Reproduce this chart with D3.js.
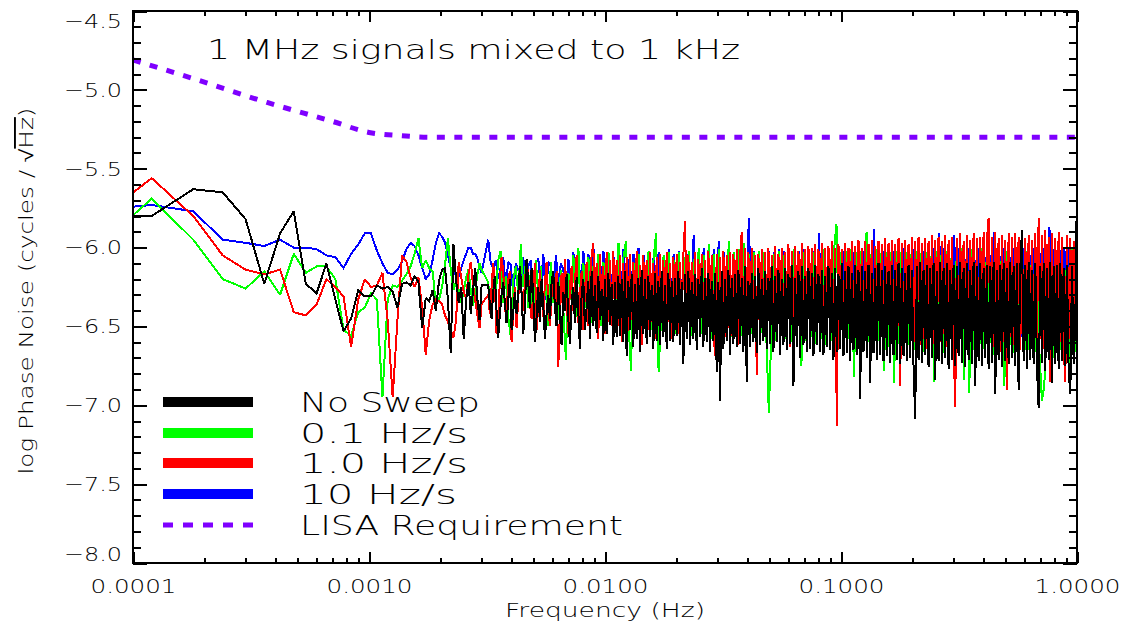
<!DOCTYPE html>
<html><head><meta charset="utf-8">
<script src="https://cdn.jsdelivr.net/npm/d3@7"></script>
<style>
body{margin:0;background:#fff}
svg{display:block}
text{font-family:"DejaVu Sans",sans-serif;font-weight:200;fill:#000}
.tk line{stroke:#000;stroke-width:2px;shape-rendering:crispEdges}
</style>
</head><body>
<svg id="chart" width="1123" height="627"></svg>
<script>
// ---------- text / ticks ----------
const chartTitle = "1 MHz signals mixed to 1 kHz";
const xTitle = "Frequency (Hz)";
const xTickValues = [0.0001, 0.001, 0.01, 0.1, 1];
const xTickLabels = ["0.0001", "0.0010", "0.0100", "0.1000", "1.0000"];
const yTickValues = [-8.0, -7.5, -7.0, -6.5, -6.0, -5.5, -5.0, -4.5];
const yTickLabels = ["\u22128.0", "\u22127.5", "\u22127.0", "\u22126.5", "\u22126.0", "\u22125.5", "\u22125.0", "\u22124.5"];
const seriesNames = ["No Sweep", "0.1 Hz/s", "1.0 Hz/s", "10 Hz/s", "LISA Requirement"];
const seriesColors = ["#000000", "#00ff00", "#ff0000", "#0000ff", "#7f00ff"];

// ---------- frequency grids (x categories) ----------
const binWidth = 6e-5;                       // spectral bin spacing of the low-frequency part
const lowFreq = d3.range(1, 51).map(k => k * binWidth);
const gridA = d3.range(236).map(i => 3.2e-3 * Math.pow(1 / 3.2e-3, i / 235)); // 0.1 & 10 Hz/s
const gridB = d3.range(354).map(i => 3.2e-3 * Math.pow(1 / 3.2e-3, i / 353)); // no sweep & 1.0 Hz/s

// ---------- series values (log phase noise) ----------
const noSweepLow = [
-5.80,-5.80,-5.63,-5.65,-5.82,-6.23,-5.91,-5.77,-6.23,-6.29,
-6.10,-6.33,-6.53,-6.45,-6.27,-6.31,-6.31,-6.24,-6.26,-6.25,
-6.28,-6.38,-6.23,-6.22,-6.24,-6.18,-6.22,-6.51,-6.32,-6.34,
-6.27,-6.40,-6.21,-6.14,-6.13,-6.33,-6.67,-5.98,-6.21,-6.35,
-6.25,-6.58,-6.33,-6.22,-6.42,-6.27,-6.13,-6.33,-6.46,-6.24];
const noSweepHigh = [
-6.24,-6.36,-6.45,-6.28,-6.18,-6.40,-6.57,-6.42,-6.30,-6.22,-6.35,-6.48,-6.33,-6.20,-6.52,
-6.41,-6.28,-6.42,-6.30,-6.12,-6.29,-6.55,-6.38,-6.07,-6.22,-6.38,-6.13,-6.30,-6.60,-6.44,
-6.25,-6.47,-6.20,-6.36,-6.58,-6.42,-6.30,-6.45,-6.22,-6.15,-6.38,-6.50,-6.22,-6.41,-6.62,
-6.28,-6.40,-6.17,-6.45,-6.61,-6.35,-6.25,-6.48,-6.19,-6.40,-6.64,-6.30,-6.20,-6.52,-6.38,
-6.21,-6.58,-6.15,-6.50,-6.24,-6.54,-6.18,-6.46,-6.26,-6.59,-6.20,-6.55,-6.16,-6.49,-6.23,
-6.62,-6.22,-6.57,-6.18,-6.56,-6.20,-6.60,-6.15,-6.69,-6.21,-6.52,-6.17,-6.63,-6.23,-6.58,
-6.19,-6.66,-6.14,-6.55,-6.20,-6.61,-6.18,-6.57,-6.24,-6.64,-6.16,-6.59,-6.21,-6.62,-6.15,
-6.57,-6.24,-6.64,-6.16,-6.59,-6.21,-6.60,-6.19,-6.56,-6.15,-6.62,-6.22,-6.74,-6.17,-6.58,
-6.15,-6.62,-6.22,-6.58,-6.17,-6.65,-6.20,-6.57,-6.13,-6.63,-6.19,-6.60,-6.16,-6.66,-6.21,
-6.59,-6.16,-6.79,-6.22,-6.97,-6.15,-6.64,-6.20,-6.59,-6.14,-6.68,-6.19,-6.61,-6.17,-6.63,
-6.14,-6.61,-6.19,-6.66,-6.12,-6.85,-6.21,-6.63,-6.16,-6.60,-6.18,-6.67,-6.13,-6.62,-6.20,
-6.59,-6.15,-6.64,-6.19,-6.61,-6.12,-6.66,-6.18,-6.60,-6.14,-6.68,-6.20,-6.62,-6.13,-6.65,
-6.17,-6.61,-6.11,-6.88,-6.19,-6.63,-6.15,-6.70,-6.12,-6.62,-6.18,-6.66,-6.13,-6.64,-6.16,
-6.69,-6.11,-6.62,-6.17,-6.66,-6.14,-6.68,-6.18,-6.63,-6.12,-6.65,-6.16,-6.71,-6.13,-6.66,
-6.17,-6.64,-6.10,-6.69,-6.15,-6.67,-6.12,-6.72,-6.16,-6.65,-6.11,-6.68,-6.14,-6.96,-6.12,
-6.66,-6.15,-6.70,-6.11,-6.86,-6.16,-6.67,-6.13,-6.71,-6.10,-6.68,-6.14,-6.72,-6.12,-6.69,
-6.15,-6.73,-6.11,-6.68,-6.14,-6.71,-6.10,-6.74,-6.13,-6.69,-6.16,-6.72,-6.11,-6.70,-6.14,
-6.75,-7.09,-6.12,-6.71,-6.09,-6.73,-6.14,-6.68,-6.11,-6.76,-6.13,-6.70,-6.10,-6.84,-6.15,
-6.72,-6.09,-6.74,-6.13,-6.70,-6.10,-6.77,-6.14,-6.71,-6.11,-6.75,-6.12,-6.69,-6.09,-6.73,
-6.13,-6.76,-6.10,-6.71,-6.14,-6.74,-6.09,-6.88,-6.12,-6.72,-6.10,-6.75,-6.13,-6.70,-6.11,
-6.77,-6.12,-6.73,-6.09,-6.93,-6.14,-6.71,-6.11,-6.76,-6.10,-6.72,-6.13,-6.74,-6.09,-6.70,
-6.12,-6.75,-6.10,-6.90,-6.13,-5.89,-6.72,-6.11,-6.77,-6.09,-6.71,-6.14,-6.74,-6.10,-6.76,
-7.02,-6.12,-6.73,-6.10,-6.78,-6.13,-6.71,-6.09,-6.86,-6.12,-6.74,-6.11,-6.77,-6.10,-6.72,
-6.13,-6.75,-6.11,-6.79,-6.93,-6.12,-6.74,-6.45,-5.58];

const sweep01Low = [
-6.09,-5.69,-5.95,-6.20,-6.26,-6.15,-6.30,-6.04,-6.16,-6.12,
-6.12,-6.20,-6.52,-6.56,-6.41,-6.38,-6.29,-6.33,-6.95,-6.33,
-6.24,-6.25,-6.21,-6.17,-6.12,-6.04,-5.94,-6.13,-6.08,-6.13,
-6.15,-6.36,-6.33,-6.25,-6.11,-5.94,-6.14,-6.27,-6.21,-6.27,
-6.35,-6.28,-6.19,-6.14,-6.27,-6.37,-6.27,-6.17,-6.10,-6.14];
const sweep01High = [
-6.22,-6.40,-6.15,-6.30,-6.08,-6.02,-6.35,-6.18,-6.44,-6.57,
-6.20,-6.12,-6.30,-5.98,-6.25,-6.10,-6.38,-6.15,-6.45,-6.08,
-6.30,-6.12,-6.42,-6.18,-6.50,-6.09,-6.35,-6.20,-6.46,-6.14,
-6.40,-6.71,-6.16,-6.33,-6.05,-6.44,-6.00,-6.52,-6.10,-6.38,
-6.06,-6.48,-6.12,-6.41,-6.04,-6.50,-6.09,-6.45,-6.03,-6.47,
-6.08,-6.44,-5.97,-6.50,-6.06,-5.96,-6.48,-6.78,-6.10,-6.46,
-6.04,-6.50,-6.11,-6.47,-6.02,-6.52,-6.07,-5.91,-6.79,-6.45,
-6.05,-6.52,-6.03,-6.48,-6.08,-6.55,-6.03,-6.50,-6.06,-6.53,
-6.02,-6.56,-6.07,-6.49,-6.00,-6.55,-6.05,-6.51,-5.98,-6.58,
-6.04,-6.52,-6.01,-6.60,-6.06,-6.54,-5.96,-6.57,-6.03,-6.53,
-6.01,-6.56,-5.97,-6.62,-6.04,-6.55,-6.03,-6.58,-6.02,-6.54,
-6.03,-6.57,-7.05,-6.55,-6.04,-6.59,-6.02,-6.56,-6.05,-6.58,
-6.02,-6.60,-6.01,-6.56,-6.04,-6.75,-6.03,-6.59,-6.02,-6.57,
-6.03,-6.61,-6.02,-6.58,-6.01,-6.62,-6.04,-6.59,-6.02,-5.85,
-6.60,-6.03,-6.63,-6.02,-6.58,-6.01,-6.82,-6.03,-6.61,-6.02,
-6.64,-5.90,-6.60,-6.03,-6.62,-6.01,-6.59,-6.02,-6.78,-6.03,
-6.63,-6.01,-6.86,-6.02,-6.61,-6.00,-6.64,-6.03,-6.62,-6.01,
-6.65,-6.02,-6.62,-6.00,-6.66,-6.03,-6.63,-6.01,-6.85,-6.02,
-6.64,-6.00,-6.67,-6.02,-6.63,-6.01,-6.66,-6.03,-6.64,-6.00,
-6.84,-6.02,-6.92,-6.01,-6.65,-6.03,-6.67,-6.00,-6.64,-6.02,
-6.66,-6.01,-6.68,-6.03,-6.65,-6.00,-6.88,-6.02,-6.66,-6.01,
-6.67,-6.03,-6.64,-6.00,-6.68,-6.02,-6.65,-6.01,-6.69,-6.03,
-6.66,-6.97,-6.87,-6.02,-6.67,-6.00,-6.70,-6.03,-6.66,-6.01,
-6.68,-6.02,-6.84,-6.00,-6.67,-6.10];

const sweep1Low = [
-5.91,-5.56,-5.80,-6.05,-6.14,-6.17,-6.14,-6.41,-6.43,-6.36,
-6.20,-6.25,-6.31,-6.63,-6.33,-6.20,-6.25,-6.24,-6.16,-6.46,
-6.95,-6.46,-6.05,-6.09,-6.19,-6.25,-6.19,-6.38,-6.68,-6.46,
-6.36,-6.33,-6.34,-6.36,-6.43,-6.47,-6.52,-6.57,-6.46,-6.09,
-6.19,-6.28,-6.32,-6.17,-6.09,-6.24,-6.33,-6.43,-6.51,-6.36];
const sweep1High = [
-6.30,-6.42,-6.25,-6.10,-6.22,-6.55,-6.48,-6.20,-6.06,-6.15,-6.38,-6.45,-6.20,-6.15,-6.60,
-6.42,-6.25,-6.51,-6.33,-6.12,-6.28,-6.40,-6.22,-6.08,-6.18,-6.35,-6.45,-6.28,-6.10,-6.52,
-6.38,-6.14,-6.30,-6.44,-6.22,-6.09,-6.35,-6.50,-6.30,-6.20,-6.38,-6.15,-6.76,-6.45,-6.16,
-6.42,-6.07,-6.30,-6.55,-6.25,-6.12,-6.40,-6.22,-6.05,-6.48,-6.30,-6.15,-6.52,-6.28,-6.09,
-6.50,-6.20,-6.05,-5.97,-6.45,-6.10,-6.58,-6.04,-6.42,-6.12,-6.55,-6.03,-6.47,-6.08,-6.50,
-6.02,-6.44,-6.08,-6.50,-6.05,-6.60,-6.10,-6.48,-6.06,-6.53,-6.04,-6.46,-6.09,-6.55,-6.02,
-6.49,-6.11,-6.62,-6.05,-6.45,-6.08,-6.52,-6.03,-6.47,-6.10,-6.58,-6.06,-6.50,-6.04,-6.46,
-6.08,-6.52,-6.03,-6.47,-6.10,-6.58,-6.06,-6.50,-6.04,-6.55,-6.09,-6.48,-6.05,-5.83,-6.46,
-6.05,-6.55,-6.09,-6.48,-6.03,-6.60,-6.07,-6.52,-6.04,-6.50,-6.08,-6.49,-6.02,-6.57,-6.05,
-6.51,-6.69,-6.04,-6.54,-6.06,-6.49,-6.02,-6.57,-6.05,-6.51,-6.03,-6.56,-6.04,-6.50,-6.01,
-6.62,-6.06,-5.90,-6.53,-6.00,-6.48,-6.03,-6.58,-6.00,-6.52,-6.05,-6.81,-6.04,-6.55,-6.01,
-6.49,-6.03,-6.58,-6.00,-6.52,-6.05,-6.60,-5.99,-6.55,-6.04,-6.49,-6.00,-6.57,-6.03,-6.51,
-5.98,-6.63,-6.02,-6.54,-5.99,-6.50,-6.02,-6.58,-5.97,-6.53,-6.01,-6.61,-5.99,-6.56,-6.00,
-6.54,-5.98,-6.59,-6.01,-6.52,-5.97,-6.63,-6.00,-6.55,-5.99,-6.60,-5.96,-6.53,-6.00,-7.13,
-5.98,-6.54,-6.01,-6.59,-5.97,-6.52,-6.00,-6.63,-5.96,-6.55,-5.99,-6.60,-5.95,-6.53,-6.00,
-6.58,-5.96,-6.62,-5.98,-6.54,-5.95,-6.57,-5.99,-6.61,-5.96,-6.55,-5.98,-6.59,-5.94,-6.56,
-5.97,-6.62,-5.95,-6.58,-5.98,-6.55,-5.94,-6.88,-5.97,-6.59,-5.95,-6.61,-5.98,-6.56,-5.93,
-6.60,-5.96,-6.57,-5.93,-6.62,-5.97,-6.58,-5.94,-6.64,-5.96,-6.57,-5.92,-6.61,-5.95,-6.59,
-5.93,-6.60,-5.96,-6.55,-5.92,-6.63,-5.95,-6.58,-5.93,-6.61,-7.01,-5.94,-6.58,-5.91,-6.62,
-5.96,-6.61,-5.92,-6.56,-5.95,-6.64,-5.91,-6.59,-5.94,-6.62,-5.93,-6.57,-5.90,-6.63,-5.95,
-5.81,-6.57,-5.93,-6.63,-5.90,-6.58,-5.94,-6.66,-5.92,-6.60,-5.95,-6.90,-5.91,-6.57,-5.93,
-6.62,-5.91,-6.57,-5.93,-6.65,-5.90,-6.60,-5.94,-6.63,-5.92,-6.58,-5.95,-6.61,-5.91,-6.59,
-5.81,-6.58,-5.92,-6.64,-5.89,-6.61,-5.93,-6.85,-5.91,-6.59,-5.94,-6.62,-5.90,-6.60,-5.93,
-6.63,-6.85,-5.92,-6.58,-5.94,-6.61,-5.96,-6.40,-6.05];

const sweep10Low = [
-5.77,-5.73,-5.77,-5.95,-5.97,-5.99,-5.95,-6.00,-6.00,-6.01,
-6.05,-6.06,-6.13,-6.04,-5.98,-5.91,-5.91,-6.02,-6.10,-6.16,
-6.17,-6.14,-6.09,-6.01,-5.97,-5.99,-6.05,-6.13,-6.20,-6.17,
-6.08,-5.97,-5.91,-5.93,-5.97,-6.05,-6.13,-6.16,-6.17,-6.18,
-6.13,-6.08,-6.04,-6.00,-6.00,-6.04,-6.04,-6.07,-6.12,-6.16];
const sweep10High = [
-5.95,-6.10,-6.13,-6.08,-6.20,-6.12,-6.06,-6.25,-6.09,-6.11,
-6.30,-6.10,-6.14,-6.22,-6.06,-6.28,-6.12,-6.08,-6.35,-6.10,
-6.07,-6.26,-6.04,-6.33,-6.09,-6.12,-6.30,-6.05,-6.22,-6.10,
-6.14,-6.35,-6.07,-6.28,-6.03,-6.31,-6.06,-6.25,-6.02,-6.34,
-6.04,-6.30,-6.00,-6.38,-6.05,-6.27,-6.02,-6.40,-6.08,-6.33,
-6.06,-6.45,-6.03,-6.36,-6.01,-6.42,-6.07,-6.30,-6.04,-6.48,
-6.00,-6.38,-6.05,-6.44,-6.02,-6.35,-6.06,-6.47,-6.03,-6.40,
-6.05,-6.43,-6.01,-6.39,-6.04,-6.46,-6.02,-6.37,-6.06,-6.44,
-6.02,-6.40,-5.92,-6.45,-6.03,-6.38,-6.00,-6.48,-6.04,-6.42,
-6.01,-6.46,-5.96,-6.41,-6.03,-6.50,-6.02,-6.43,-6.05,-6.47,
-6.03,-6.44,-6.04,-6.49,-5.81,-6.42,-6.02,-6.52,-6.03,-6.45,
-6.04,-6.50,-6.02,-6.44,-6.03,-6.53,-6.01,-6.47,-6.02,-6.51,
-6.03,-6.46,-6.04,-6.52,-6.02,-6.48,-6.01,-6.55,-6.03,-6.49,
-6.02,-6.53,-5.91,-6.47,-6.03,-6.56,-6.01,-6.50,-6.02,-6.54,
-6.01,-6.49,-6.02,-6.57,-6.00,-6.51,-6.03,-6.55,-6.01,-6.50,
-6.02,-6.58,-6.00,-6.52,-5.88,-6.56,-6.01,-6.53,-6.02,-6.59,
-6.00,-6.54,-6.02,-6.58,-6.01,-6.52,-6.00,-6.60,-6.02,-6.55,
-6.01,-6.59,-6.00,-6.53,-6.02,-6.61,-6.01,-6.56,-6.00,-6.58,
-5.91,-6.55,-6.00,-6.62,-6.01,-6.57,-5.92,-6.60,-6.00,-6.54,
-6.01,-6.61,-6.00,-6.56,-6.02,-6.63,-6.00,-6.58,-6.01,-6.60,
-6.00,-6.57,-5.90,-6.62,-6.01,-6.59,-6.00,-6.63,-6.02,-6.58,
-6.00,-6.61,-6.01,-6.57,-6.00,-6.64,-6.02,-6.60,-6.00,-6.59,
-6.01,-6.63,-6.00,-6.58,-5.87,-6.62,-6.01,-6.60,-6.00,-6.65,
-6.01,-6.61,-6.00,-6.63,-6.02,-6.20];

// LISA requirement curve
const lisaFreq  = [0.0001, 0.00019, 0.00037, 0.0007, 0.001, 0.00135, 0.0018, 1.0];
const lisaValue = [-4.81, -4.94, -5.08, -5.20, -5.27, -5.29, -5.30, -5.30];

// ---------- layout ----------
const plot = {left: 133, right: 1077, top: 11, bottom: 563};
const svg = d3.select("#chart");

const x = d3.scaleLog().domain([1e-4, 1]).range([plot.left, plot.right]);
const y = d3.scaleLinear().domain([-8, -4.5]).range([plot.bottom, plot.top]);

svg.append("defs").append("clipPath").attr("id", "plotclip")
  .append("rect").attr("x", plot.left).attr("y", plot.top)
  .attr("width", plot.right - plot.left).attr("height", plot.bottom - plot.top);

const lineGen = d3.line().x(d => x(d[0])).y(d => y(d[1]));
const dataG = svg.append("g").attr("clip-path", "url(#plotclip)");

// draw order: blue, green, red, black (black on top)
const drawOrder = [
  [lowFreq.concat(gridA), sweep10Low.concat(sweep10High), 3],
  [lowFreq.concat(gridA), sweep01Low.concat(sweep01High), 1],
  [lowFreq.concat(gridB), sweep1Low.concat(sweep1High), 2],
  [lowFreq.concat(gridB), noSweepLow.concat(noSweepHigh), 0]
];
drawOrder.forEach(([fx, vals, ci]) => {
  dataG.append("path")
    .datum(d3.zip(fx, vals))
    .attr("d", lineGen)
    .attr("fill", "none")
    .attr("stroke", seriesColors[ci])
    .attr("stroke-width", 2)
    .attr("stroke-linejoin", "miter")
    .attr("stroke-miterlimit", 2)
    .attr("shape-rendering", "crispEdges");
});

const lisaLine = d3.line().curve(d3.curveMonotoneX).x(d => x(d[0])).y(d => y(d[1]));
dataG.append("path")
  .datum(d3.zip(lisaFreq, lisaValue))
  .attr("d", lisaLine)
  .attr("fill", "none")
  .attr("stroke", seriesColors[4])
  .attr("stroke-width", 5)
  .attr("stroke-dasharray", "8,9.5");

// ---------- axes ----------
const xMinor = d3.range(-4, 0).flatMap(e => d3.range(2, 10).map(m => m * Math.pow(10, e)));
const yMinor = d3.range(0, 36).map(i => -8 + i * 0.1)
  .filter(v => Math.abs(v * 2 - Math.round(v * 2)) > 1e-6);

// labels
const gxb = svg.append("g").attr("transform", `translate(0,${plot.bottom})`)
  .call(d3.axisBottom(x).tickValues(xTickValues).tickSize(0).tickPadding(16)
    .tickFormat((d, i) => xTickLabels[i]));
gxb.select(".domain").remove();
gxb.selectAll("line").remove();
gxb.selectAll("text").attr("font-size", 20).attr("textLength", 86)
  .attr("lengthAdjust", "spacingAndGlyphs").attr("fill", "#000");

const gyl = svg.append("g").attr("transform", `translate(${plot.left},0)`)
  .call(d3.axisLeft(y).tickValues(yTickValues).tickSize(0).tickPadding(11)
    .tickFormat((d, i) => yTickLabels[i]));
gyl.select(".domain").remove();
gyl.selectAll("line").remove();
gyl.selectAll("text").attr("font-size", 20).attr("textLength", 58)
  .attr("lengthAdjust", "spacingAndGlyphs").attr("fill", "#000");
gyl.selectAll(".tick").filter(d => d === -4.5).select("text").attr("dy", "0.82em");
gyl.selectAll(".tick").filter(d => d === -8.0).select("text").attr("dy", "-0.12em");

// inward tick marks: axes oriented toward the plot interior, positive sizes
function tickAxis(axisFn, scale, vals, size, tx, ty) {
  const g = svg.append("g").attr("class", "tk").attr("transform", `translate(${tx},${ty})`)
    .call(axisFn(scale).tickValues(vals).tickSizeInner(size).tickSizeOuter(0).tickFormat(() => ""));
  g.select(".domain").remove();
  g.selectAll("text").remove();
  return g;
}
tickAxis(d3.axisTop, x, xTickValues, 11, 0, plot.bottom);
tickAxis(d3.axisTop, x, xMinor, 5, 0, plot.bottom);
tickAxis(d3.axisBottom, x, xTickValues, 11, 0, plot.top);
tickAxis(d3.axisBottom, x, xMinor, 5, 0, plot.top);
tickAxis(d3.axisRight, y, yTickValues, 14, plot.left, 0);
tickAxis(d3.axisRight, y, yMinor, 8, plot.left, 0);
tickAxis(d3.axisLeft, y, yTickValues, 14, plot.right, 0);
tickAxis(d3.axisLeft, y, yMinor, 8, plot.right, 0);

// frame
svg.append("rect")
  .attr("x", plot.left).attr("y", plot.top)
  .attr("width", plot.right - plot.left).attr("height", plot.bottom - plot.top)
  .attr("fill", "none").attr("stroke", "#000").attr("stroke-width", 2);

// ---------- titles ----------
svg.append("text").attr("x", 207).attr("y", 59)
  .attr("font-size", 26).attr("textLength", 533).attr("lengthAdjust", "spacingAndGlyphs")
  .text(chartTitle);

svg.append("text").attr("x", (plot.left + plot.right) / 2).attr("y", 617)
  .attr("text-anchor", "middle").attr("font-size", 19)
  .attr("textLength", 200).attr("lengthAdjust", "spacingAndGlyphs")
  .text(xTitle);

const yTitle = svg.append("text")
  .attr("transform", `translate(33,${(plot.top + plot.bottom) / 2 + 4}) rotate(-90)`)
  .attr("text-anchor", "middle").attr("font-size", 19)
  .attr("textLength", 367).attr("lengthAdjust", "spacingAndGlyphs");
yTitle.append("tspan").text("log Phase Noise (cycles / \u221A");
yTitle.append("tspan").style("text-decoration", "overline").text("Hz");
yTitle.append("tspan").text(")");

// ---------- legend ----------
const legendRows = [402, 433, 463, 494, 525];
const legendWidths = [180, 168, 168, 157, 323];
const legG = svg.append("g");
seriesNames.forEach((name, i) => {
  const ly = legendRows[i];
  const l = legG.append("line").attr("x1", 163).attr("x2", 253)
    .attr("y1", ly).attr("y2", ly).attr("stroke", seriesColors[i]);
  if (i === 4) l.attr("stroke-width", 5).attr("stroke-dasharray", "10,10");
  else l.attr("stroke-width", 10);
  legG.append("text").attr("x", 300).attr("y", ly + 10)
    .attr("font-size", 26).attr("textLength", legendWidths[i])
    .attr("lengthAdjust", "spacingAndGlyphs").text(name);
});
</script>
</body></html>
